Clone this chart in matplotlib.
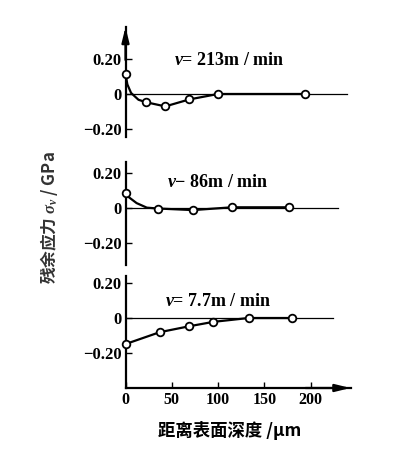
import matplotlib
matplotlib.use("Agg")
import matplotlib.pyplot as plt

# ---- data ----
depth_213 = [0, 22, 43, 69, 100, 194]
stress_213 = [0.116, -0.047, -0.071, -0.031, 0.0, 0.0]
curve_depth_213 = [0, 2, 6, 14, 22, 43, 69, 100, 194]
curve_stress_213 = [0.116, 0.055, 0.006, -0.033, -0.047, -0.071, -0.031, 0.0, 0.0]

depth_86 = [0, 35, 73, 115, 177]
stress_86 = [0.086, -0.003, -0.012, 0.004, 0.004]
curve_depth_86 = [0, 4, 12, 23, 35, 73, 115, 177]
curve_stress_86 = [0.086, 0.06, 0.028, 0.002, -0.003, -0.012, 0.004, 0.004]

depth_77 = [0, 37, 69, 95, 133, 180]
stress_77 = [-0.149, -0.081, -0.047, -0.022, 0.0, 0.0]

panel_titles = ["$v$= 213m / min", "$v$\u2212 86m / min", "$v$= 7.7m / min"]
yticks = [-0.20, 0.0, 0.20]
ytick_labels = ["\u22120.20", "0", "0.20"]
xticks = [0, 50, 100, 150, 200]
xtick_labels = ["0", "50", "100", "150", "200"]
xlabel = "距离表面深度 /µm"
ylabel = "残余应力 $\\sigma_v$ / GPa"

plt.rcParams['font.family'] = ['Liberation Serif', 'Noto Sans CJK SC', 'DejaVu Sans']
plt.rcParams['font.weight'] = 'bold'
plt.rcParams['mathtext.fontset'] = 'custom'
plt.rcParams['mathtext.it'] = 'Liberation Serif:italic:bold'
plt.rcParams['mathtext.rm'] = 'Liberation Serif:bold'

fig = plt.figure(figsize=(4.04, 4.51), dpi=100)

W = 404.0
H = 451.0
left = 125.5 / W
width = 225 / W
# (top px, bottom px, ymin, ymax)
panels = [
    (27, 137, -0.246, 0.383),
    (162, 265, -0.326, 0.263),
    (276, 388, -0.40, 0.24),
]
XMAX = 243

series = [
    (curve_depth_213, curve_stress_213, depth_213, stress_213),
    (curve_depth_86, curve_stress_86, depth_86, stress_86),
    (depth_77, stress_77, depth_77, stress_77),
]
zero_ends = [239, 230, 224]
title_pos = [(112, 0.19), (100, 0.147), (99.5, 0.094)]

axes = []
for i, (top, bot, y0, y1) in enumerate(panels):
    ax = fig.add_axes([left, 1 - bot / H, width, (bot - top) / H])
    axes.append(ax)
    ax.set_xlim(0, XMAX)
    ax.set_ylim(y0, y1)
    ax.patch.set_alpha(0)
    for s in ['top', 'right']:
        ax.spines[s].set_visible(False)
    ax.spines['left'].set_linewidth(1.6)
    if i < 2:
        ax.spines['bottom'].set_visible(False)
        ax.set_xticks([])
    else:
        ax.spines['bottom'].set_linewidth(1.6)
        ax.set_xticks(xticks)
        ax.set_xticklabels(xtick_labels, fontsize=11.5, fontweight='bold')
        ax.tick_params(axis='x', direction='in', length=4, width=1, pad=3)
    ax.set_yticks(yticks)
    ax.set_yticklabels(ytick_labels, fontsize=12, fontweight='bold')
    ax.tick_params(axis='y', direction='in', length=4, width=1, pad=3)
    ax.axhline(0, xmin=0, xmax=zero_ends[i] / XMAX, color='black', lw=0.9, zorder=1)
    cx, cy, mx, my = series[i]
    ax.plot(cx, cy, color='black', lw=1.6, zorder=2, clip_on=False)
    ax.plot(mx, my, linestyle='none', marker='o', ms=5.5, mfc='white',
            mec='black', mew=1.3, zorder=3, clip_on=False)
    tx, ty = title_pos[i]
    ax.text(tx, ty, panel_titles[i], fontsize=13, fontweight='bold',
            ha='center', va='center')

# arrows
axes[0].annotate('', xy=(0, 1.0), xytext=(0, 0.7), xycoords='axes fraction',
                 arrowprops=dict(arrowstyle='-|>,head_length=0.9,head_width=0.22',
                                 color='black', lw=1.6, shrinkA=0, shrinkB=0))
axes[2].annotate('', xy=(1.0, 0), xytext=(0.8, 0), xycoords='axes fraction',
                 arrowprops=dict(arrowstyle='-|>,head_length=0.9,head_width=0.22',
                                 color='black', lw=1.6, shrinkA=0, shrinkB=0))

fig.text(230 / W, 1 - 430 / H, xlabel, fontsize=12.5, ha='center', va='center',
         fontweight='bold', family=['Noto Sans CJK SC', 'DejaVu Sans'])
fig.text(49 / W, 1 - 218 / H, ylabel, fontsize=12, ha='center', va='center',
         rotation=90, fontweight='bold', color='#333333',
         family=['Noto Sans CJK SC', 'DejaVu Sans'])

fig.savefig('out.png', dpi=100)
